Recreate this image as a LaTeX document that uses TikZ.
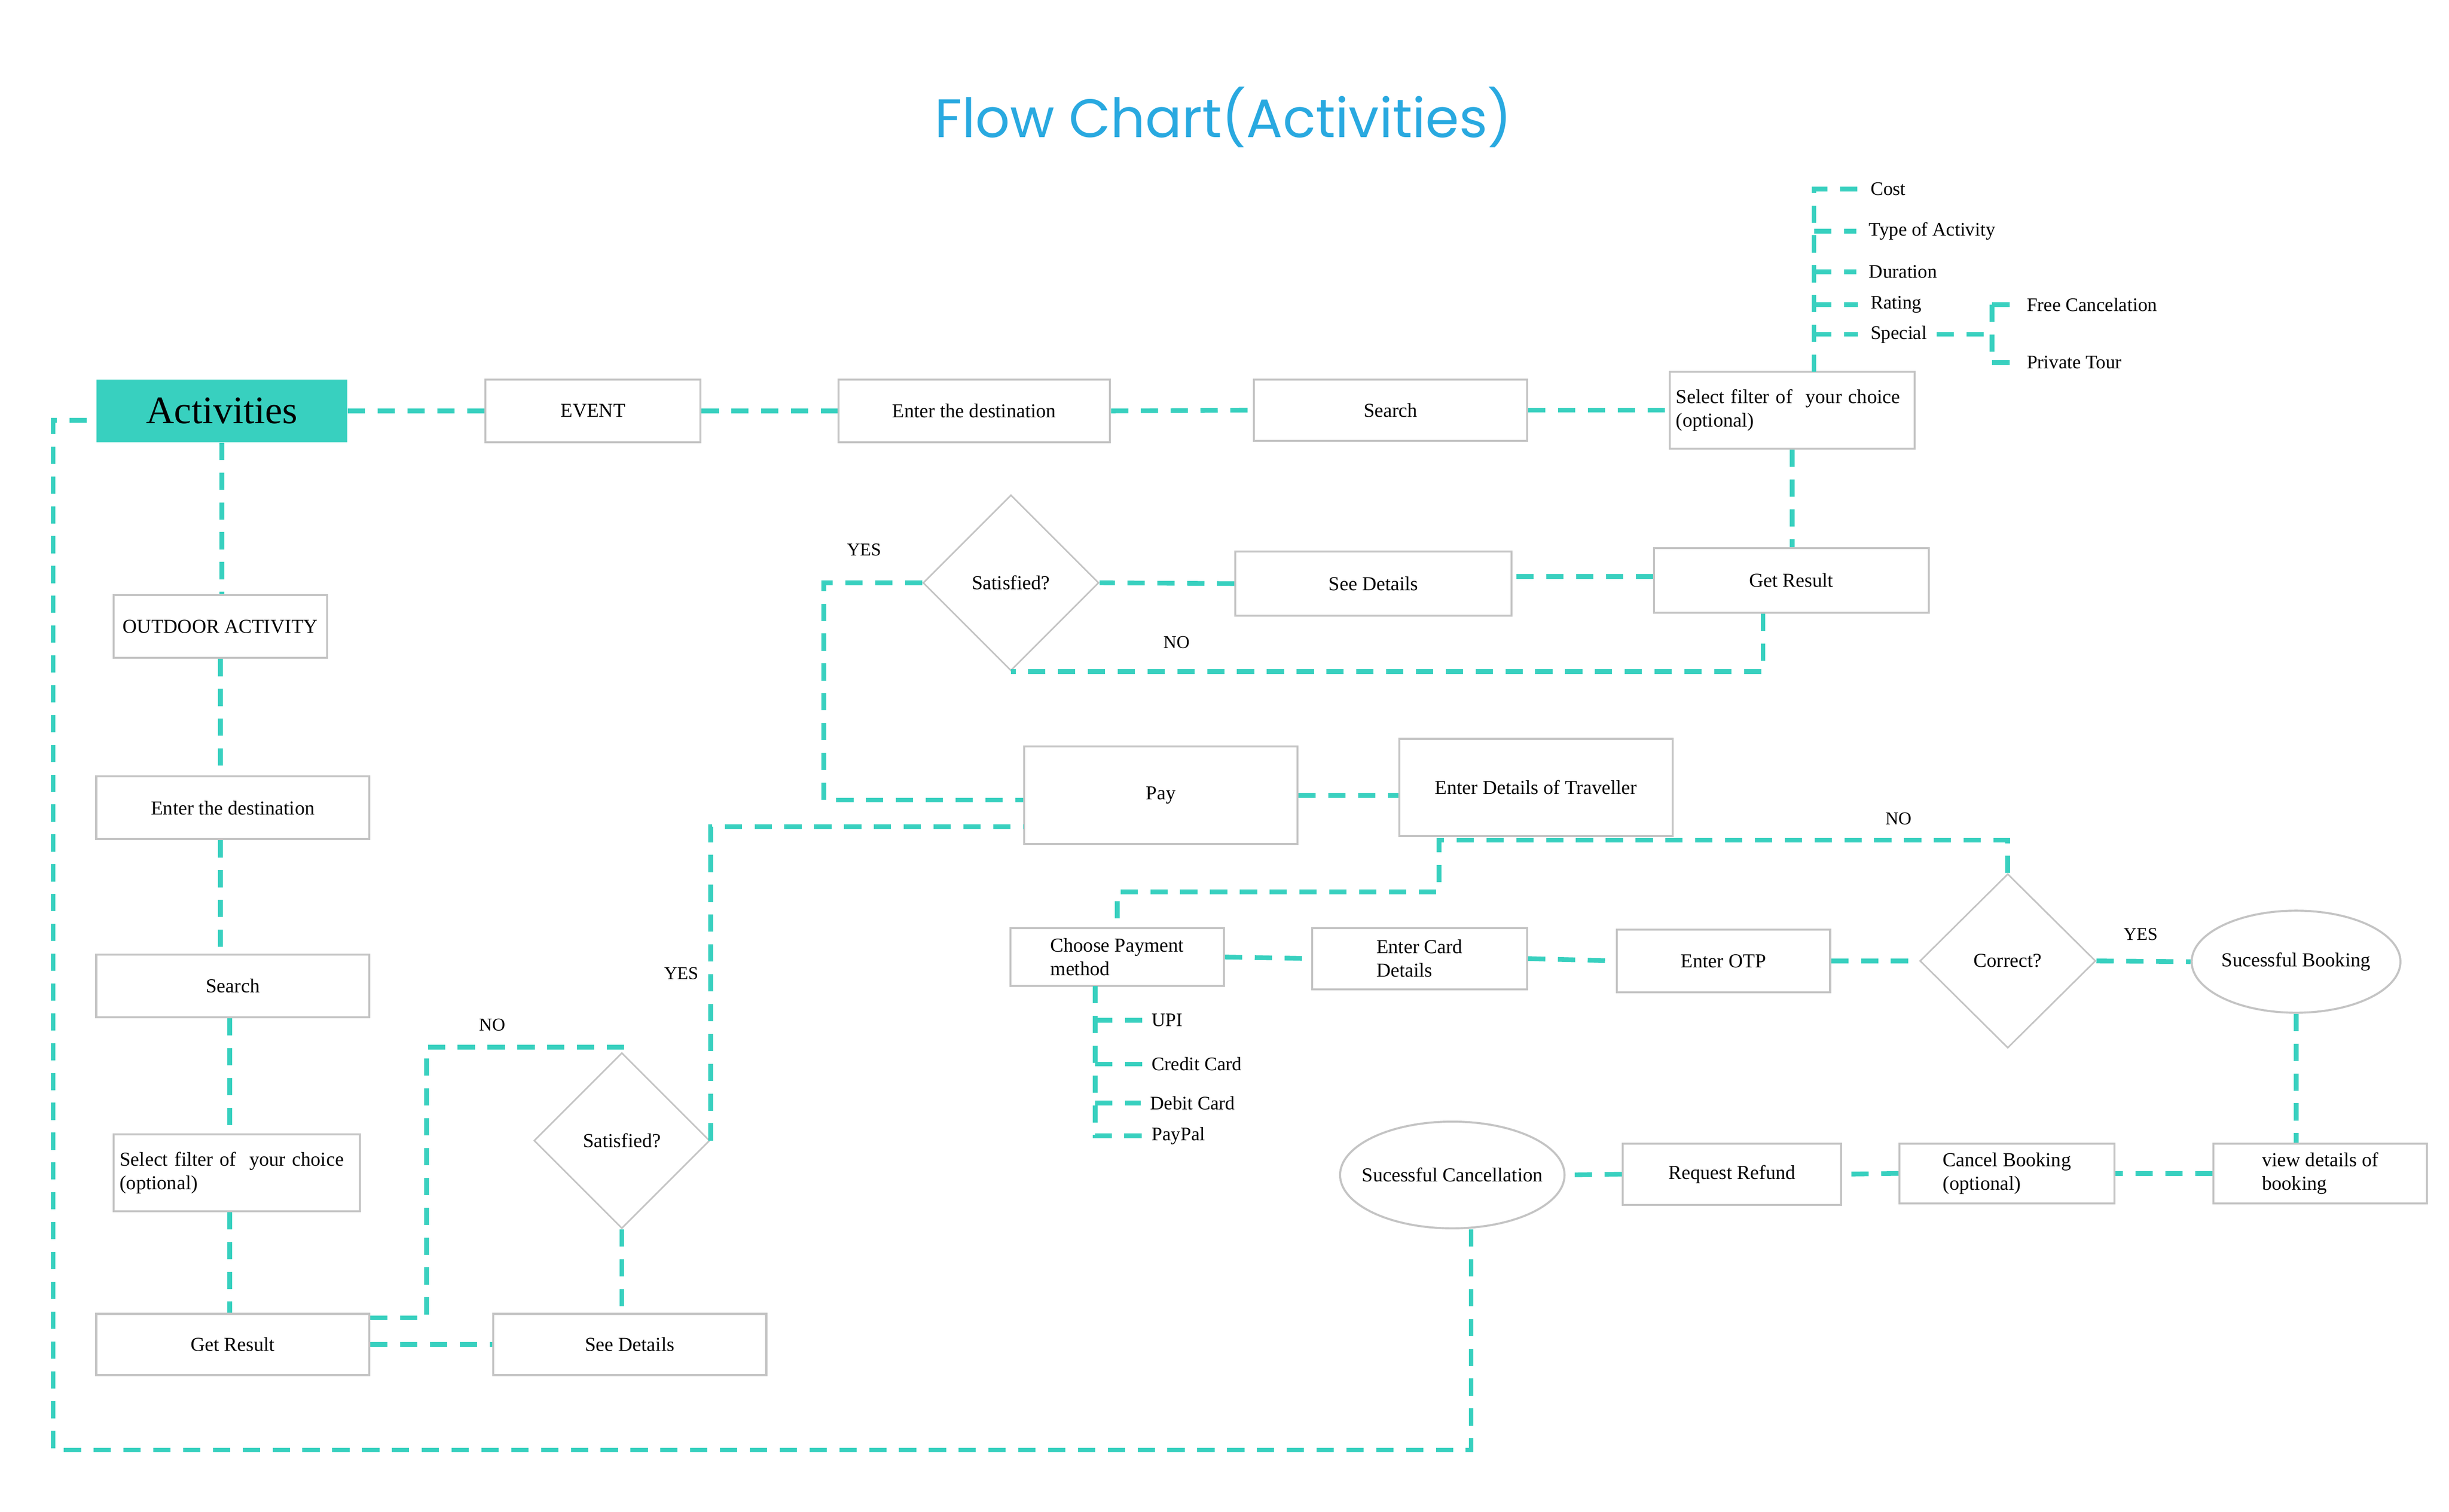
\documentclass[tikz,border=0pt]{standalone}
\usepackage{fontspec}
\setmainfont{Liberation Serif}
\newfontfamily\titlefont{Poppins}
\usetikzlibrary{shapes.geometric,calc}
\definecolor{teal1}{HTML}{38D0BF}
\definecolor{titleblue}{HTML}{29A9E0}
\definecolor{boxgray}{HTML}{C4C4C4}
\begin{document}
\begin{tikzpicture}[x=0.9953pt,y=-0.9953pt,
  conn/.style={draw=teal1, line width=3pt, dash pattern=on 11pt off 8pt},
  box/.style={draw=boxgray, line width=1.3pt, inner sep=0pt, align=left, font=\fontsize{12.6}{15}\selectfont},
  dia/.style={draw=boxgray, line width=1pt, diamond, inner sep=0pt, minimum width=112pt, minimum height=112pt, font=\fontsize{12.6}{15}\selectfont},
  ell/.style={draw=boxgray, line width=1.3pt, ellipse, inner sep=0pt, font=\fontsize{12.6}{15}\selectfont},
  lbl/.style={inner sep=0pt, font=\fontsize{11.5}{13}\selectfont},
  item/.style={inner sep=0pt, anchor=west, font=\fontsize{12.2}{14}\selectfont}
]
\useasboundingbox (0,0) rectangle (1567.4,967.5);
\fill[white] (0,0) rectangle (1567.4,967.5);

\node[font=\titlefont\fontsize{34.5}{40}\selectfont, text=titleblue] (title) at (783,75) {Flow Chart(Activities)};

% top row
\node[fill=teal1, inner sep=0pt, minimum width=160pt, minimum height=40pt, font=\fontsize{24.8}{28}\selectfont] (act) at (142,263) {Activities};
\node[box, minimum width=137pt, minimum height=40pt] (event) at (379.5,263) {EVENT};
\node[box, minimum width=173pt, minimum height=40pt] (ed1) at (623.5,263) {Enter the destination};
\node[box, minimum width=174pt, minimum height=39pt] (se1) at (890,262.5) {Search};
\node[box, minimum width=156pt, minimum height=49pt, text width=148pt] (sf1) at (1147,262.5) {Select filter of\ \ your choice\\(optional)};
\node[box, minimum width=175pt, minimum height=41pt] (gr1) at (1146.5,371.5) {Get Result};
\node[box, minimum width=176pt, minimum height=41pt] (sd1) at (879,373.5) {See Details};
\node[dia] (sat1) at (647,373) {Satisfied?};
\node[box, minimum width=174pt, minimum height=62pt] (pay) at (743,509) {Pay};
\node[box, minimum width=174pt, minimum height=62pt] (etd) at (983,504) {Enter Details of Traveller};
\node[box, minimum width=136pt, minimum height=37pt] (cpm) at (715,612.5) {Choose Payment\\method};
\node[box, minimum width=137pt, minimum height=39pt] (ecd) at (908.5,613.5) {Enter Card\\Details};
\node[box, minimum width=136pt, minimum height=40pt] (otp) at (1103,615) {Enter OTP};
\node[dia, minimum height=111pt] (cor) at (1285,615) {Correct?};
\node[ell, minimum width=133pt, minimum height=65pt] (sb) at (1469.5,615.5) {\makebox[0pt]{Sucessful Booking}};
\node[box, minimum width=136pt, minimum height=38pt] (vd) at (1485,751) {view details of\\booking};
\node[box, minimum width=137pt, minimum height=38pt] (cb) at (1284.5,751) {Cancel Booking\\(optional)};
\node[box, minimum width=139pt, minimum height=39pt] (rr) at (1108.5,751.5) {Request Refund};
\node[ell, minimum width=143pt, minimum height=68pt] (sc) at (929.5,752) {\makebox[0pt]{Sucessful Cancellation}};

% left column
\node[box, minimum width=136pt, minimum height=40pt] (od) at (141,401) {OUTDOOR ACTIVITY};
\node[box, minimum width=174pt, minimum height=40pt] (ed2) at (149,517) {Enter the destination};
\node[box, minimum width=174pt, minimum height=40pt] (se2) at (149,631) {Search};
\node[box, minimum width=157pt, minimum height=49pt, text width=149pt] (sf2) at (151.5,750.5) {Select filter of\ \ your choice\\(optional)};
\node[box, minimum width=174pt, minimum height=39pt] (gr2) at (149,860.5) {Get Result};
\node[box, minimum width=174pt, minimum height=39pt] (sd2) at (403,860.5) {See Details};
\node[dia] (sat2) at (398,730) {Satisfied?};

% labels
\node[lbl] (yes1) at (553,352) {YES};
\node[lbl] (no1) at (753,411) {NO};
\node[lbl] (no2) at (1215,524) {NO};
\node[lbl] (yes2) at (1370,598) {YES};
\node[lbl] (no3) at (315,656) {NO};
\node[lbl] (yes3) at (436,623) {YES};

% filter items
\node[item] (cost) at (1197,121) {Cost};
\node[item] (type) at (1196,148) {Type of Activity};
\node[item] (dur) at (1196,174) {Duration};
\node[item] (rat) at (1197,195) {Rating};
\node[item] (spec) at (1197,214) {Special};
\node[item] (free) at (1297,195) {Free Cancelation};
\node[item] (priv) at (1297,232) {Private Tour};

% payment items
\node[item] (upi) at (737,653) {UPI};
\node[item] (cc) at (737,681) {Credit Card};
\node[item] (dc) at (736,706) {Debit Card};
\node[item] (pp) at (737,727) {PayPal};

% connectors top
\draw[conn] (act.east) -- (event.west);
\draw[conn] (event.east) -- (ed1.west);
\draw[conn] (ed1.east) -- (se1.west);
\draw[conn] (se1.east) -- (sf1.west);
\draw[conn] (sf1.south) -- (sf1.south |- gr1.north);
\draw[conn] ([yshift=2.5pt]gr1.west) -- ([yshift=2.5pt]gr1.west -| sd1.east);
\draw[conn] (sd1.west) -- (sat1.east);
\draw[conn] ([xshift=-18pt]gr1.south) |- (sat1.south);
\draw[conn] (sat1.west) -- ++(-63,0) |- ([yshift=-3pt]pay.west);
\draw[conn] (pay.east) -- (pay.east -| etd.west);
\draw[conn] (cor.north) -- ++(0,-21) -| ($(etd.south)+(-62,35)$) -| (cpm.north);
\draw[conn] (cpm.east) -- (ecd.west);
\draw[conn] (ecd.east) -- (otp.west);
\draw[conn] (otp.east) -- (cor.west);
\draw[conn] (cor.east) -- (sb.west);
\draw[conn] (sb.south) -- (sb.south |- vd.north);
\draw[conn] (vd.west) -- (cb.east);
\draw[conn] (cb.west) -- (rr.east);
\draw[conn] (rr.west) -- (sc.east);
\coordinate (bl) at (34,928);
\draw[conn] ([xshift=12pt]sc.south) |- (bl) |- ([yshift=-6pt]act.west);

% connectors left
\draw[conn] (act.south) -- (act.south |- od.north);
\draw[conn] (od.south) -- (od.south |- ed2.north);
\draw[conn] (od.south |- ed2.south) -- (od.south |- se2.north);
\draw[conn] ([xshift=-2pt]se2.south) -- ([xshift=-2pt]se2.south |- sf2.north);
\draw[conn] ([xshift=-2pt]se2.south |- sf2.south) -- ([xshift=-2pt]se2.south |- gr2.north);
\draw[conn] (gr2.east) -- (sd2.west);
\draw[conn] ([yshift=17pt]gr2.east) -- ++(36,0) |- ([yshift=3pt]sat2.north) -- (sat2.north);
\draw[conn] (sat2.south) -- (sat2.south |- sd2.north);
\draw[conn] (sat2.east) |- ([yshift=-20pt]pay.west);

% filter tree
\coordinate (tb) at (1161,238);
\coordinate (tt) at (1161,121);
\draw[conn] (tb) -- (tt) -- ([xshift=-8pt]cost.west);
\foreach \n in {type,dur,rat,spec}{\draw[conn] (tb |- \n.west) -- ([xshift=-8pt]\n.west);}
\coordinate (br) at (1275,214);
\draw[conn] ([xshift=6pt]spec.east) -- (br);
\draw[conn] (br |- free.west) -- (br |- priv.west);
\draw[conn] (br |- free.west) -- ([xshift=-6pt]free.west);
\draw[conn] (br |- priv.west) -- ([xshift=-6pt]priv.west);

% payment tree
\coordinate (pt) at (701,631);
\coordinate (pb) at (701,727);
\draw[conn] (pt) -- (pb) -- ([xshift=-6pt]pp.west);
\foreach \n in {upi,cc,dc}{\draw[conn] (pt |- \n.west) -- ([xshift=-6pt]\n.west);}
\end{tikzpicture}
\end{document}
